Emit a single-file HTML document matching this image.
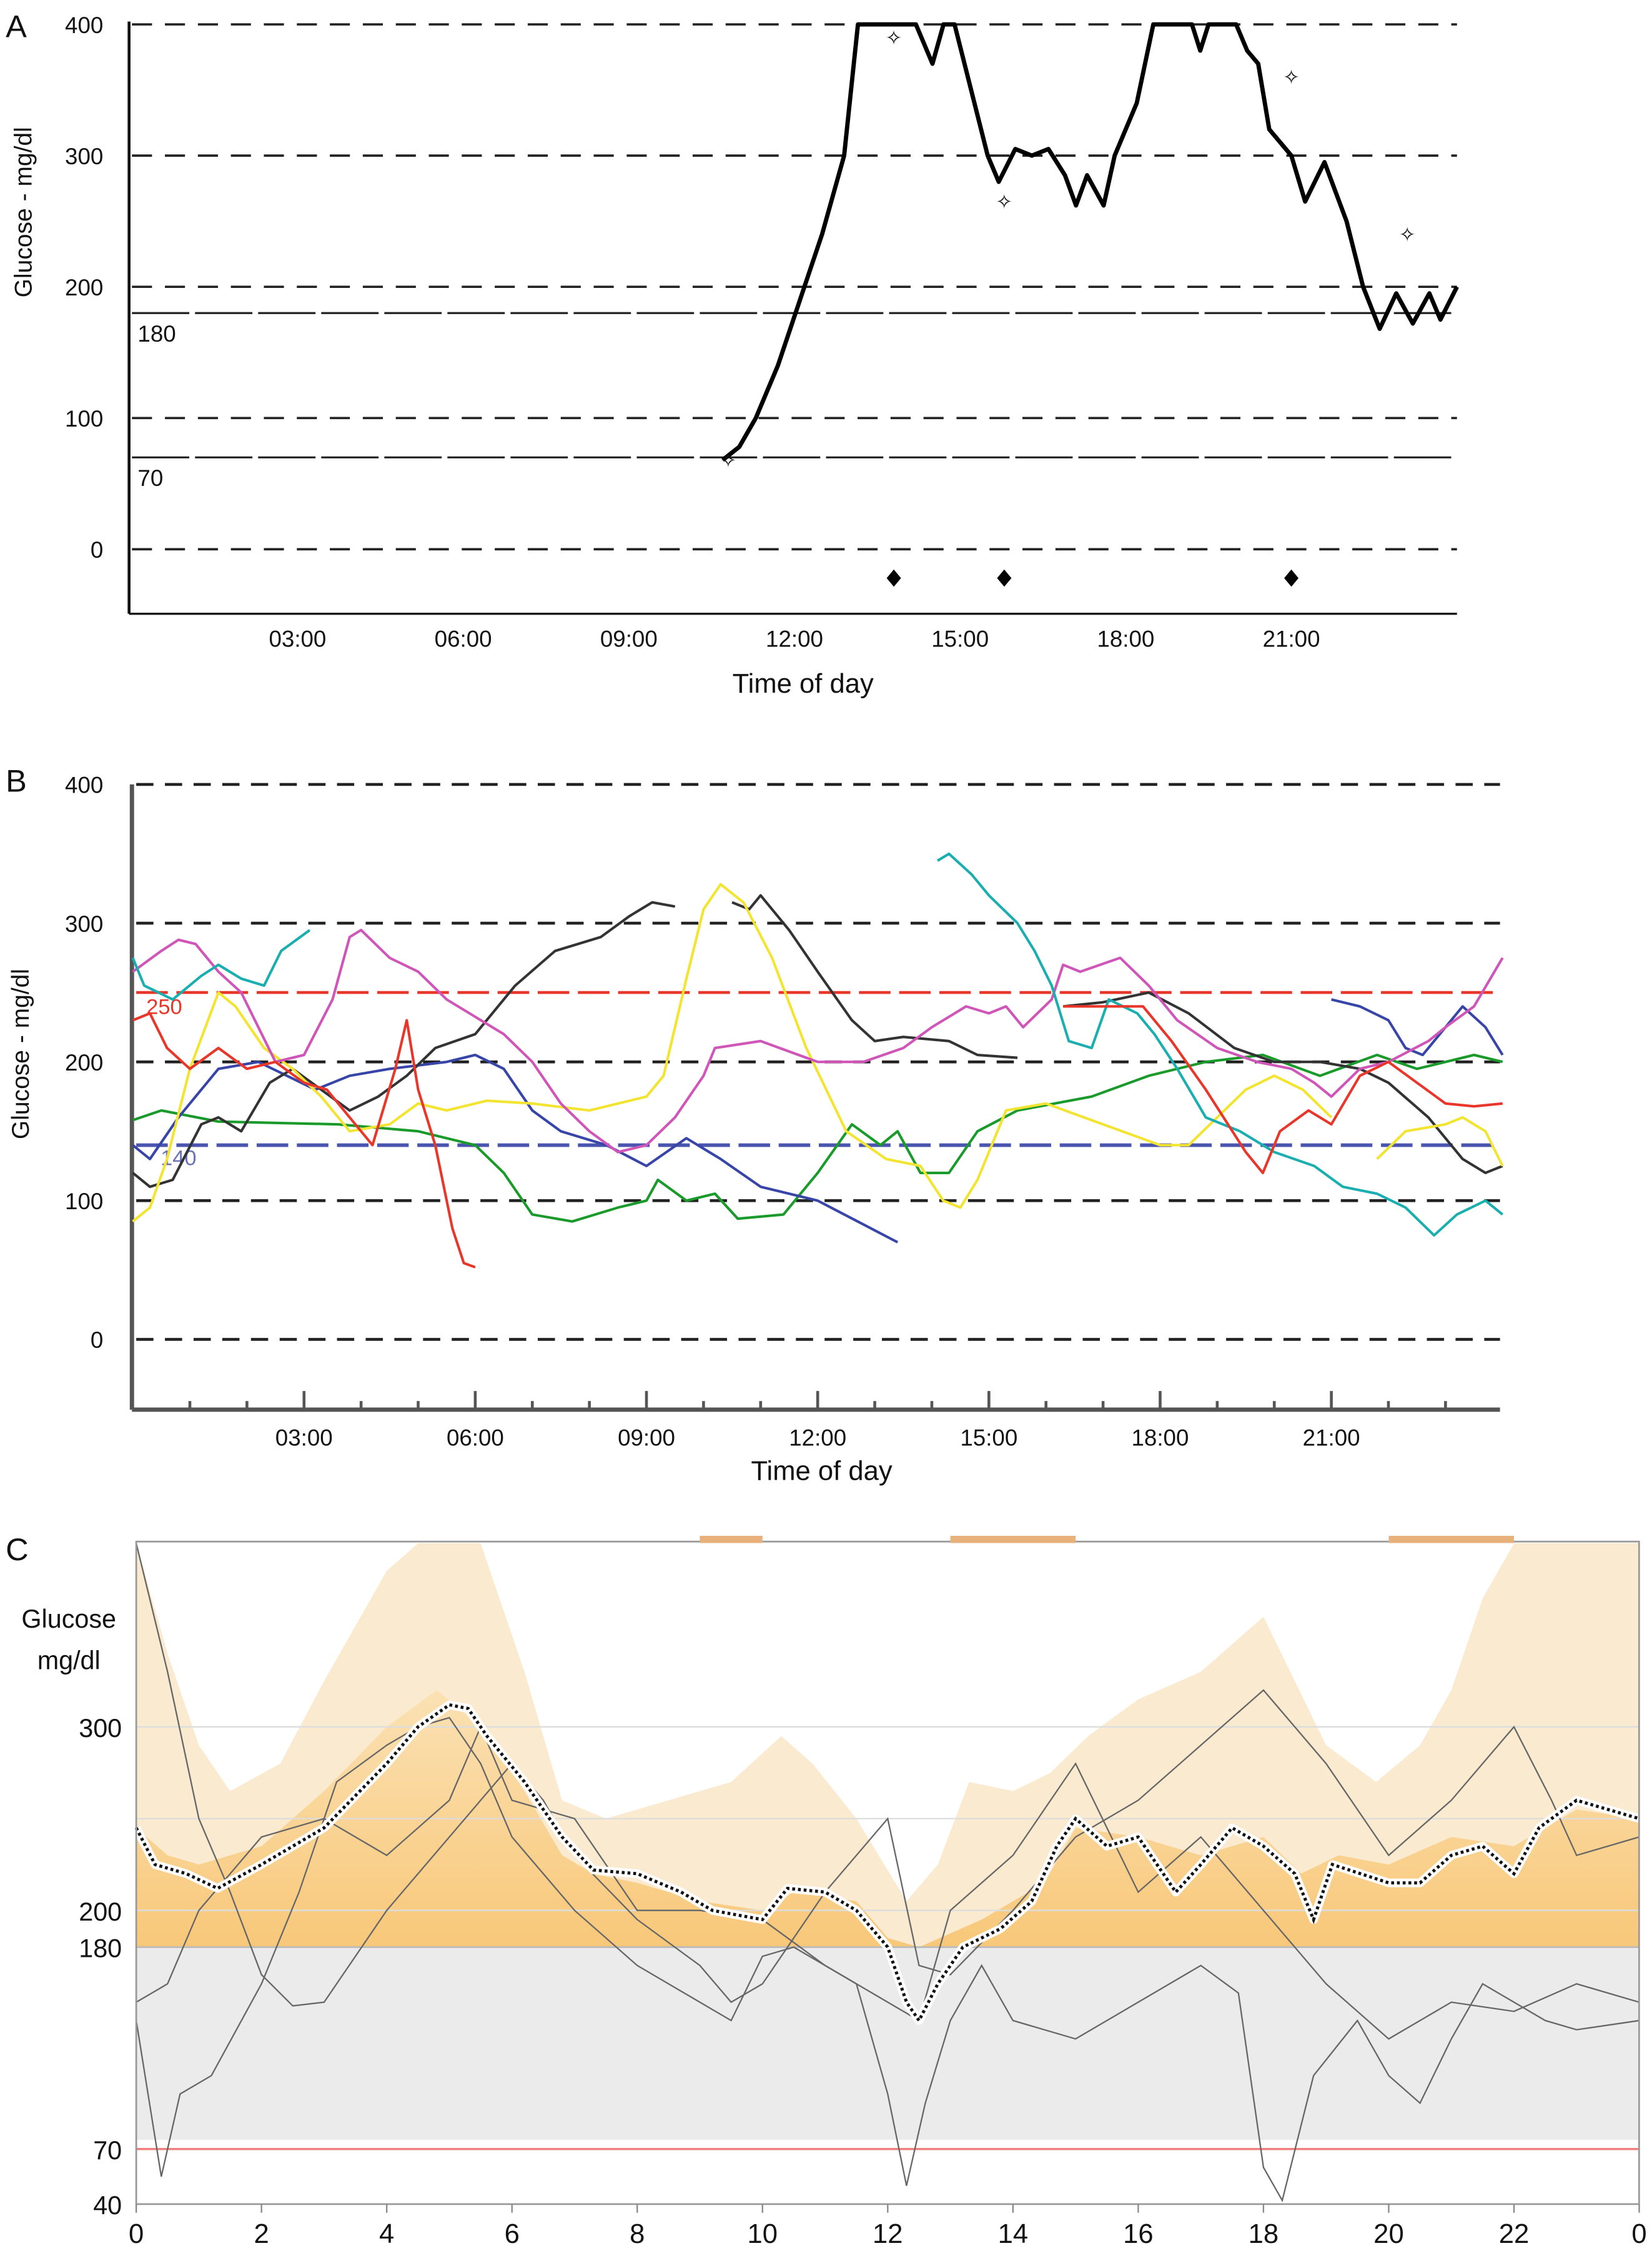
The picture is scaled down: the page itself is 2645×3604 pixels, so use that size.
<!DOCTYPE html>
<html><head><meta charset="utf-8"><style>
html,body{margin:0;padding:0;background:#fff}
svg{display:block}
text{font-family:"Liberation Sans",sans-serif;fill:#111}
</style></head><body>
<svg id="fig" width="2645" height="3604" viewBox="0 0 1152 1569.7" preserveAspectRatio="none">
<!-- Panel A static -->
<g id="pa">
<text x="4" y="26" font-size="22">A</text>
<line x1="90" y1="15" x2="90" y2="428" stroke="#111" stroke-width="2"/>
<line x1="90" y1="428" x2="1016" y2="428" stroke="#111" stroke-width="1.5"/>
<text x="14" y="140" font-size="17" transform="rotate(-90 22 140)" text-anchor="middle">Glucose - mg/dl</text>
<text x="560" y="483" font-size="19" text-anchor="middle">Time of day</text>
</g>
<g id="pb">
<text x="4" y="552" font-size="22">B</text>
<line x1="92" y1="547" x2="92" y2="983" stroke="#555" stroke-width="3"/>
<line x1="92" y1="983" x2="1046" y2="983" stroke="#555" stroke-width="3"/>
<text x="20" y="735" font-size="17" transform="rotate(-90 20 735)" text-anchor="middle">Glucose - mg/dl</text>
<text x="573" y="1032" font-size="19" text-anchor="middle">Time of day</text>
</g>
<g id="pc">
<text x="4" y="1088" font-size="22">C</text>
<text x="48" y="1135" font-size="18" text-anchor="middle">Glucose</text>
<text x="48" y="1164" font-size="18" text-anchor="middle">mg/dl</text>
</g>
</svg>
<script>
const NS='http://www.w3.org/2000/svg';
const svg=document.getElementById('fig');
function mk(tag,attrs,parent){const e=document.createElementNS(NS,tag);for(const k in attrs)e.setAttribute(k,attrs[k]);(parent||svg).appendChild(e);return e;}

// ---------- Panel A data ----------
const aHours=[10.7,11.0,11.3,11.7,12.1,12.5,12.9,13.15,13.9,14.2,14.5,14.7,14.9,15.2,15.5,15.7,16.0,16.3,16.6,16.9,17.1,17.3,17.6,17.8,18.2,18.5,19.2,19.35,19.5,19.8,20.0,20.2,20.4,20.6,21.0,21.25,21.6,22.0,22.3,22.6,22.9,23.2,23.5,23.7,24.0];
const aValues=[68,78,100,140,190,240,300,400,400,400,370,400,400,350,300,280,305,300,305,285,262,285,262,300,340,400,400,380,400,400,400,380,370,320,300,265,295,250,200,168,195,172,195,175,200];
const aOpenHours=[10.8,13.8,15.8,21.0,23.1];
const aOpenValues=[68,390,265,360,240];
const aFilledHours=[13.8,15.8,21.0];
const aFilledValues=[-22,-22,-22];
const aGridValues=[400,300,200,100,0];
const aTargetValues=[180,70];
const aTickHours=[3,6,9,12,15,18,21];
const aTickLabels=['03:00','06:00','09:00','12:00','15:00','18:00','21:00'];
const ax=h=>92+h*38.5, ay=v=>383-v*0.915;
const pa=document.getElementById('pa');
aGridValues.forEach(v=>{const l=mk('line',{x1:92,x2:1016,y1:ay(v),y2:ay(v),stroke:'#222','stroke-width':1.6,'stroke-dasharray':'14 9'},pa);


const t=mk('text',{x:72,y:ay(v)+6,'font-size':16,'text-anchor':'end'},pa);t.textContent=v;

});
aTargetValues.forEach(v=>{const l=mk('line',{x1:92,x2:1016,y1:ay(v),y2:ay(v),stroke:'#222','stroke-width':1.4,'stroke-dasharray':'40 4'},pa);


const t=mk('text',{x:96,y:ay(v)+20,'font-size':16},pa);t.textContent=v;

});
aTickHours.forEach((h,i)=>{const t=mk('text',{x:ax(h),y:451,'font-size':16,'text-anchor':'middle'},pa);t.textContent=aTickLabels[i];

});
{const p=mk('polyline',{points:aHours.map((h,i)=>ax(h)+','+ay(aValues[i])).join(' '),fill:'none',stroke:'#000','stroke-width':3,'stroke-linejoin':'round'},pa);

}
aOpenHours.forEach((h,i)=>{const t=mk('text',{x:ax(h),y:ay(aOpenValues[i])+5,'font-size':14,'text-anchor':'middle'},pa);t.textContent='✧';

});
aFilledHours.forEach((h,i)=>{const x=ax(h),y=ay(aFilledValues[i]);const d=mk('polygon',{points:`${x},${y-6} ${x+5},${y} ${x},${y+6} ${x-5},${y}`,fill:'#000'},pa);

});

// ---------- Panel B data ----------
const bGreenH=[0,0.5,1.5,3.6,5,6,6.5,7,7.7,8.5,9,9.2,9.7,10.2,10.6,11.4,12,12.6,13.1,13.4,13.8,14.3,14.8,15.5,16.8,17.8,18.8,19.8,20.8,21.8,22.5,23.5,24];
const bGreenV=[158,165,157,155,150,140,120,90,85,95,100,115,100,105,87,90,120,155,140,150,120,120,150,165,175,190,200,205,190,205,195,205,200];
const bBlueH=[0,0.3,0.8,1.5,2.2,2.7,3.2,3.8,4.5,5.5,6,6.5,7,7.5,8.3,9,9.7,10.3,11,12,12.7,13.4];
const bBlueV=[140,130,160,195,200,190,180,190,195,200,205,195,165,150,140,125,145,130,110,100,85,70];
const bBlue2H=[21,21.5,22,22.3,22.6,23.3,23.7,24];
const bBlue2V=[245,240,230,210,205,240,225,205];
const bBlackH=[0,0.3,0.7,1.2,1.5,1.9,2.4,2.8,3.3,3.8,4.3,4.8,5.3,6,6.7,7.4,8.2,8.7,9.1,9.5];
const bBlackV=[120,110,115,155,160,150,185,195,180,165,175,190,210,220,255,280,290,305,315,312];
const bBlack2H=[10.5,10.8,11,11.5,12,12.6,13,13.5,14.3,14.8,15.5];
const bBlack2V=[315,310,320,295,265,230,215,218,215,205,203];
const bBlack3H=[16.3,17,17.8,18.5,19.3,20,20.8,21.5,22,22.7,23.3,23.7,24];
const bBlack3V=[240,243,250,235,210,200,200,195,185,160,130,120,125];
const bYellowH=[0,0.3,0.6,1,1.5,1.8,2.3,2.8,3.3,3.8,4.5,5,5.5,6.2,7,8,9,9.3,9.7,10,10.3,10.7,11.2,11.8,12.5,13.2,13.8,14.2,14.5,14.8,15.3,16,17,18,18.5,19.5,20,20.5,21];
const bYellowV=[85,95,130,195,250,240,210,195,175,150,155,170,165,172,170,165,175,190,260,310,328,315,275,210,150,130,125,100,95,115,165,170,155,140,140,180,190,180,160];
const bYellow2H=[21.8,22.3,23,23.3,23.7,24];
const bYellow2V=[130,150,155,160,150,125];
const bMagentaH=[0,0.5,0.8,1.1,1.5,1.9,2.5,3,3.5,3.8,4,4.5,5,5.5,6.5,7,7.5,8,8.5,9,9.5,10,10.2,11,12,12.8,13.5,14,14.6,15,15.3,15.6,16.1,16.3,16.6,17.3,17.8,18.3,19,19.7,20.3,20.7,21,21.5,22,22.7,23,23.5,24];
const bMagentaV=[265,280,288,285,265,250,200,205,245,290,295,275,265,245,220,200,170,150,135,140,160,190,210,215,200,200,210,225,240,235,240,225,245,270,265,275,255,230,210,200,195,185,175,195,200,215,225,240,275];
const bCyanH=[0,0.2,0.7,1.2,1.5,1.9,2.3,2.6,3.1];
const bCyanV=[275,255,245,262,270,260,255,280,295];
const bCyan2H=[14.1,14.3,14.7,15,15.5,15.8,16.1,16.4,16.8,17.1,17.6,17.9,18.3,18.8,19.4,20,20.7,21.2,21.8,22.3,22.8,23.2,23.7,24];
const bCyan2V=[345,350,335,320,300,280,255,215,210,245,235,220,195,160,150,135,125,110,105,95,75,90,100,90];
const bRedH=[0,0.3,0.6,1,1.5,2,2.5,3,3.4,3.8,4.2,4.6,4.8,5,5.3,5.6,5.8,6];
const bRedV=[230,235,210,195,210,195,200,185,180,160,140,195,230,180,140,80,55,52];
const bRed2H=[16.3,17,17.7,18.2,18.8,19.5,19.8,20.1,20.6,21,21.5,22,22.5,23,23.5,24];
const bRed2V=[240,240,240,215,180,135,120,150,165,155,190,200,185,170,168,170];
const bGridValues=[400,300,200,100,0];
const bTickHours=[3,6,9,12,15,18,21];
const bTickLabels=['03:00','06:00','09:00','12:00','15:00','18:00','21:00'];
const bx=h=>92.6+h*39.8, by=v=>934-v*0.9675;
const pb=document.getElementById('pb');
bGridValues.forEach(v=>{const l=mk('line',{x1:95,x2:1046,y1:by(v),y2:by(v),stroke:'#222','stroke-width':2,'stroke-dasharray':'12 8'},pb);


const t=mk('text',{x:72,y:by(v)+6,'font-size':16,'text-anchor':'end'},pb);t.textContent=v;

});
for(let h=1;h<24;h++){const l=mk('line',{x1:bx(h),x2:bx(h),y1:h%3?977:970,y2:983,stroke:'#555','stroke-width':2},pb);

}
bTickHours.forEach((h,i)=>{const t=mk('text',{x:bx(h),y:1008,'font-size':16,'text-anchor':'middle'},pb);t.textContent=bTickLabels[i];

});
{const l=mk('line',{x1:95,x2:1046,y1:by(250),y2:by(250),stroke:'#e8372a','stroke-width':2,'stroke-dasharray':'22 6'},pb);


const t=mk('text',{x:102,y:by(250)+15,'font-size':15,fill:'#e8372a'},pb);t.textContent='250';t.style.fill='#e8372a';


const l2=mk('line',{x1:95,x2:1046,y1:by(140),y2:by(140),stroke:'#4a55b0','stroke-width':2.5,'stroke-dasharray':'22 6'},pb);


const t2=mk('text',{x:112,y:by(140)+14,'font-size':15},pb);t2.textContent='140';t2.style.fill='#6a72b8';

}
const bSeries=[[bGreenH,bGreenV,'#1a9a2a','day-green'],[bBlueH,bBlueV,'#3845a8','day-blue'],[bBlue2H,bBlue2V,'#3845a8','day-blue-2'],[bBlackH,bBlackV,'#333','day-black'],[bBlack2H,bBlack2V,'#333','day-black-2'],[bBlack3H,bBlack3V,'#333','day-black-3'],[bYellowH,bYellowV,'#f2e430','day-yellow'],[bYellow2H,bYellow2V,'#f2e430','day-yellow-2'],[bMagentaH,bMagentaV,'#d055b8','day-magenta'],[bCyanH,bCyanV,'#1aaeb0','day-cyan'],[bCyan2H,bCyan2V,'#1aaeb0','day-cyan-2'],[bRedH,bRedV,'#e8372a','day-red'],[bRed2H,bRed2V,'#e8372a','day-red-2']];
bSeries.forEach(s=>{const p=mk('polyline',{points:s[0].map((h,i)=>bx(h)+','+by(s[1][i])).join(' '),fill:'none',stroke:s[2],'stroke-width':1.8,'stroke-linejoin':'round'},pb);

});

// ---------- Panel C data ----------
const cOuterH=[0,0.5,1,1.5,2.3,3,4,4.5,5.5,6.2,6.8,7.5,8.5,9.5,10.3,10.8,11.5,12.3,12.8,13.3,14,14.6,15.2,16,17,18,18.5,19,19.8,20.5,21,21.5,22,24];
const cOuterV=[400,340,290,265,280,325,385,400,400,330,260,250,260,270,295,280,250,205,225,270,265,275,295,315,330,360,325,290,270,290,320,370,400,400];
const cInnerH=[0,0.5,1,2,3,4,4.8,5.5,6.2,6.8,7.3,8,9,10,10.5,11.5,12,12.5,13.5,14.5,15,16,17,18,18.6,19.2,20,21,22,23,24];
const cInnerV=[245,230,225,235,265,300,320,300,265,230,220,215,205,200,210,205,185,180,195,215,245,240,230,240,220,230,225,240,235,255,250];
const cMedianH=[0,0.3,0.8,1.3,2,3,4,4.5,5,5.3,5.6,6.2,6.8,7.3,8,8.7,9.2,10,10.4,11,11.5,12,12.3,12.5,12.8,13.2,13.8,14.3,14.7,15,15.5,16,16.6,17,17.5,18,18.5,18.8,19.1,20,20.5,21,21.5,22,22.4,23,23.5,24];
const cMedianV=[245,225,220,212,225,245,280,300,312,310,295,270,240,222,220,210,200,195,212,210,200,180,150,140,160,180,190,205,235,250,235,240,210,225,245,235,220,195,225,215,215,230,235,220,245,260,255,250];
const cTrace1H=[0,0.4,0.7,1.2,2,2.6,3.2,4,4.5,5,5.5,6,7,8,9,9.5,10,10.5,11,11.5,12,12.3,12.6,13,13.5,14,15,16,17,17.6,18,18.3,18.8,19.5,20,20.5,21,21.5,22,22.5,23,24];
const cTrace1V=[140,55,100,110,160,210,270,290,300,305,280,240,200,170,150,140,175,180,170,160,100,50,95,140,170,140,130,150,170,155,60,42,110,140,110,95,130,160,150,140,135,140];
const cTrace2H=[0,0.5,1,1.5,2,2.5,3,4,5,6,6.5,7,8,9,9.5,10,11,12,12.5,13,14,15,16,17,18,19,20,21,22,22.6,23,24];
const cTrace2V=[400,330,250,210,165,148,150,200,240,280,260,230,195,170,150,160,210,250,170,165,200,240,260,290,320,280,230,260,300,260,230,240];
const cTrace3H=[0,0.5,1,2,3,4,5,5.5,6,7,8,9,10,11,12,12.5,13,14,15,16,17,18,19,20,21,22,23,24];
const cTrace3V=[150,160,200,240,250,230,260,300,260,250,200,200,195,170,150,140,200,230,280,210,240,200,160,130,150,145,160,150];
const cBarStarts=[9,13,20];
const cBarEnds=[10,15,22];
const cYTicks=[300,200,180,70,40];
const cXTicks=[0,2,4,6,8,10,12,14,16,18,20,22,24];
const cXLabels=['0','2','4','6','8','10','12','14','16','18','20','22','0'];
const cx=h=>95+h*43.67, cy=v=>1537-(v-40)*1.28;
const pc=document.getElementById('pc');
const defs=mk('defs',{});
defs.innerHTML='<clipPath id="clipHi"><rect x="95" y="1075" width="1048" height="'+(cy(180)-1075)+'"/></clipPath><clipPath id="clipPlot"><rect x="95" y="1075" width="1048" height="462"/></clipPath><linearGradient id="og" x1="0" y1="0" x2="0" y2="1"><stop offset="0" stop-color="#fbe0b0"/><stop offset="1" stop-color="#f8c470"/></linearGradient>';
{const r=mk('rect',{x:95,y:cy(180),width:1048,height:cy(75)-cy(180),fill:'#ebebeb'},pc);

}
function areaPath(H,V){return 'M'+cx(H[0])+','+cy(180)+' '+H.map((h,i)=>'L'+cx(h)+','+cy(V[i])).join(' ')+' L'+cx(H[H.length-1])+','+cy(180)+'Z';}
{const p=mk('path',{d:areaPath(cOuterH,cOuterV),fill:'#f9ead0','clip-path':'url(#clipHi)'},pc);


const p2=mk('path',{d:areaPath(cInnerH,cInnerV),fill:'url(#og)',opacity:0.9,'clip-path':'url(#clipHi)'},pc);

}
[300,250,200].forEach(v=>{const l=mk('line',{x1:95,x2:1143,y1:cy(v),y2:cy(v),stroke:'#ddd','stroke-width':1},pc);

});
{const l=mk('line',{x1:95,x2:1143,y1:cy(180),y2:cy(180),stroke:'#bbb','stroke-width':1.2},pc);


const l2=mk('line',{x1:95,x2:1143,y1:cy(70),y2:cy(70),stroke:'#f08080','stroke-width':1.5},pc);

}
[[cTrace1H,cTrace1V,'trace-1'],[cTrace2H,cTrace2V,'trace-2'],[cTrace3H,cTrace3V,'trace-3']].forEach(s=>{
const p=mk('polyline',{points:s[0].map((h,i)=>cx(h)+','+cy(s[1][i])).join(' '),fill:'none',stroke:'#666','stroke-width':1,'clip-path':'url(#clipPlot)'},pc);

});
{const pts=cMedianH.map((h,i)=>cx(h)+','+cy(cMedianV[i])).join(' ');
const w=mk('polyline',{points:pts,fill:'none',stroke:'#fff','stroke-width':6,'stroke-linejoin':'round'},pc);


const m=mk('polyline',{points:pts,fill:'none',stroke:'#111','stroke-width':2.2,'stroke-dasharray':'2 2'},pc);

}
{const f=mk('rect',{x:95,y:1075,width:1048,height:462,fill:'none',stroke:'#999','stroke-width':1.2},pc);

}
cBarStarts.forEach((s,i)=>{const r=mk('rect',{x:cx(s),y:1071,width:cx(cBarEnds[i])-cx(s),height:5,fill:'#e8b07a'},pc);

});
cYTicks.forEach(v=>{const t=mk('text',{x:85,y:cy(v)+7,'font-size':18,'text-anchor':'end'},pc);t.textContent=v;

});
cXTicks.forEach((h,i)=>{const t=mk('text',{x:cx(h),y:1564,'font-size':19,'text-anchor':'middle'},pc);t.textContent=cXLabels[i];


const l=mk('line',{x1:cx(h),x2:cx(h),y1:1537,y2:1543,stroke:'#888'},pc);

});
</script>
</body></html>
